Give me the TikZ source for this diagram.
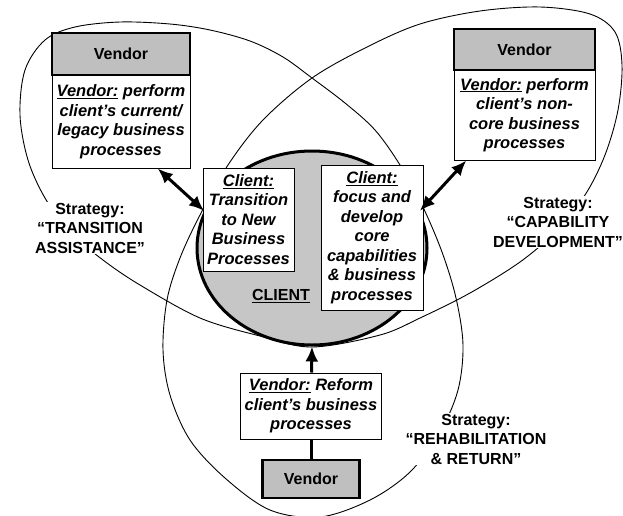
\documentclass[tikz,border=0pt]{standalone}
\usepackage{fontspec}
\setmainfont{Liberation Sans}
\usetikzlibrary{arrows.meta,shapes.geometric}
\begin{document}
\begin{tikzpicture}[x=1pt,y=-1pt,
    vhead/.style={draw,line width=2.5pt,fill=gray!50,inner sep=0pt,
      font={\fontsize{16}{19.5}\selectfont\bfseries}},
    vbody/.style={draw,line width=1pt,fill=white,align=center,inner sep=0pt,
      font={\fontsize{16.5}{19.5}\selectfont\bfseries\itshape}},
    strat/.style={fill=white,align=center,inner sep=1pt,
      font={\fontsize{16}{19.5}\selectfont\bfseries}},
    link/.style={line width=3pt,{Latex[length=15pt,width=13pt]}-{Latex[length=15pt,width=13pt]}}]
  \useasboundingbox (0,0) rectangle (623,515);
  \clip (0,0) rectangle (623,515);
  % the three lobes
  \draw[line width=0.9pt] plot[smooth cycle,tension=0.55] coordinates {
      (312,78) (345,103) (375,130) (400,165) (422,205) (442,252) (456,298)
      (463,345) (458,390) (440,432) (410,472) (370,500) (320,517) (270,510)
      (225,478) (190,440) (170,395) (163,350) (167,300) (180,258) (200,215)
      (228,165) (263,120) (312,78) (367,47) (420,24) (480,11) (540,7)
      (590,14) (615,32) (622,65) (618,110) (605,155) (585,195) (555,232)
      (520,262) (470,293) (420,318) (380,335) (312,347) (260,336) (200,318)
      (140,285) (103,260) (70,232) (45,198) (28,160) (20,115) (25,70)
      (45,40) (75,27) (120,22) (170,24) (210,30) (250,41) (283,57)};
  % client
  \node[ellipse,draw,line width=3pt,fill=gray!45,minimum width=230pt,
    minimum height=194pt,inner sep=0pt] (client) at (312,248) {};
  \node[vbody,minimum width=91pt,minimum height=103pt] (clientL) at (248.5,219.5)
    {\underline{Client:}\\Transition\\to New\\Business\\Processes};
  \node[vbody,minimum width=102pt,minimum height=145pt] (clientR) at (372,237.5)
    {\underline{Client:}\\focus and\\develop\\core\\capabilities\\\& business\\processes};
  \node[inner sep=0pt,font={\fontsize{16}{19.5}\selectfont\bfseries}] (clientlbl)
    at (281,296) {\underline{CLIENT}};
  % vendors
  \node[vbody,minimum width=138pt,minimum height=93pt] (bodyL) at (121,121.5)
    {\underline{Vendor:} perform\\client’s current/\\legacy business\\processes};
  \node[vhead,minimum width=138pt,minimum height=42pt] (headL) at (121,54) {Vendor};
  \node[vbody,minimum width=141pt,minimum height=90pt] (bodyR) at (524.5,115)
    {\underline{Vendor:} perform\\client’s non-\\core business\\processes};
  \node[vhead,minimum width=141pt,minimum height=41pt] (headR) at (524.5,49.5) {Vendor};
  \node[vbody,minimum width=141pt,minimum height=66pt] (reform) at (311,406)
    {\underline{Vendor:} Reform\\client’s business\\processes};
  \node[vhead,minimum width=97pt,minimum height=38pt] (headB) at (311,479) {Vendor};
  % links
  \draw[link] (bodyL.-52) -- (client.161);
  \draw[link] (bodyR.-142) -- (client.19);
  \draw[line width=3pt,-{Latex[length=15pt,width=13pt]}] (reform) -- (client.south);
  \draw[line width=3pt] (headB) -- (reform);
  % strategies
  \node[strat] (stratL) at (90,228) {Strategy:\\“TRANSITION\\ASSISTANCE”};
  \node[strat] (stratR) at (558,222) {Strategy:\\“CAPABILITY\\DEVELOPMENT”};
  \node[strat] (stratB) at (476,439) {Strategy:\\“REHABILITATION\\\& RETURN”};
\end{tikzpicture}
\end{document}
